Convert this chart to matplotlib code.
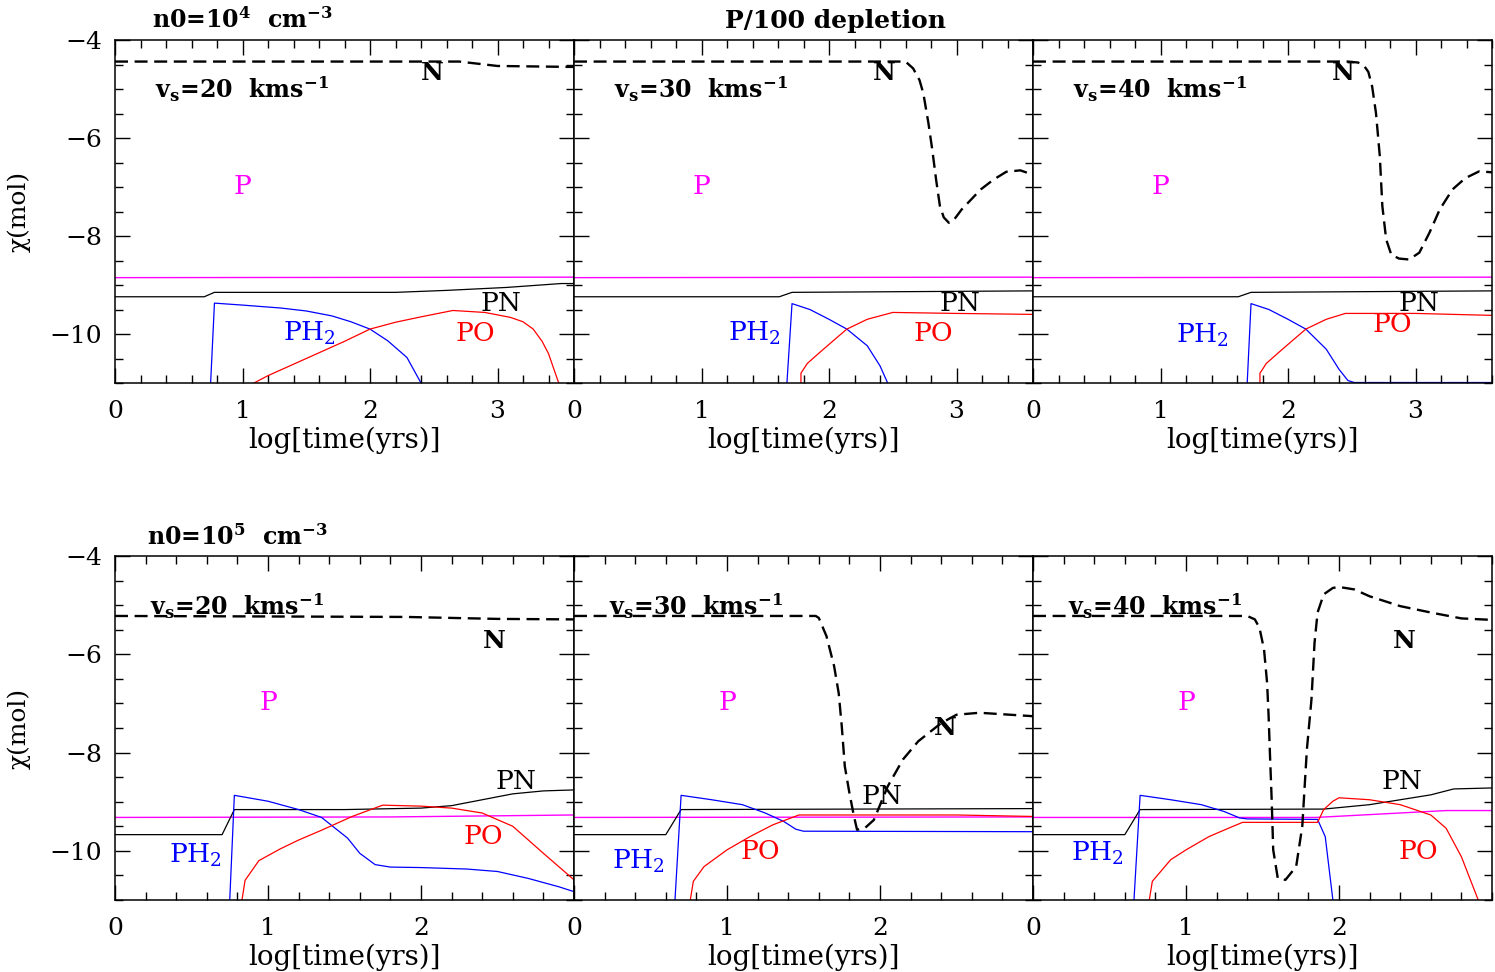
import numpy as np
import matplotlib
matplotlib.use('Agg')
import matplotlib.pyplot as plt
from matplotlib.ticker import MultipleLocator

plt.rcParams['font.family'] = 'DejaVu Serif'
plt.rcParams['mathtext.fontset'] = 'dejavuserif'

# ---------------- data (log time in yrs, log abundance) ----------------
# top row: n0 = 1e4 cm^-3
t_N_4_20 = [0, 2.7, 3.0, 3.6]
N_4_20 = [-4.44, -4.44, -4.53, -4.55]
t_P_4_20 = [0, 3.6]
P_4_20 = [-8.85, -8.84]
t_PN_4_20 = [0, 0.70, 0.78, 2.2, 2.6, 3.07, 3.5, 3.6]
PN_4_20 = [-9.24, -9.24, -9.15, -9.15, -9.11, -9.05, -8.97, -8.97]
t_PH2_4_20 = [0.75, 0.78, 1.0, 1.3, 1.5, 1.7, 1.85, 2.0, 2.14, 2.29, 2.4]
PH2_4_20 = [-11, -9.37, -9.41, -9.47, -9.53, -9.63, -9.75, -9.90, -10.14, -10.48, -11.0]
t_PO_4_20 = [1.09, 1.2, 1.5, 1.8, 2.0, 2.2, 2.4, 2.65, 2.9, 3.1, 3.2, 3.28, 3.35, 3.4, 3.44, 3.48]
PO_4_20 = [-11, -10.85, -10.5, -10.15, -9.9, -9.76, -9.65, -9.52, -9.56, -9.66, -9.75, -9.9, -10.15, -10.4, -10.7, -11]

t_N_4_30 = [0, 2.6, 2.66, 2.71, 2.74, 2.78, 2.81, 2.84, 2.87, 2.9, 2.94, 2.97, 3.0, 3.04, 3.19, 3.29, 3.39, 3.5, 3.6]
N_4_30 = [-4.44, -4.44, -4.58, -4.82, -5.09, -5.7, -6.24, -6.85, -7.39, -7.62, -7.73, -7.70, -7.6, -7.46, -7.05, -6.85, -6.69, -6.66, -6.75]
t_P_4_30 = [0, 3.6]
P_4_30 = [-8.85, -8.84]
t_PN_4_30 = [0, 1.61, 1.71, 3.6]
PN_4_30 = [-9.24, -9.24, -9.15, -9.12]
t_PH2_4_30 = [1.67, 1.71, 1.85, 2.0, 2.14, 2.3, 2.4, 2.46]
PH2_4_30 = [-11, -9.38, -9.5, -9.7, -9.9, -10.24, -10.65, -11]
t_PO_4_30 = [1.78, 1.78, 1.83, 1.93, 2.05, 2.14, 2.3, 2.5, 3.0, 3.6]
PO_4_30 = [-11, -10.8, -10.6, -10.37, -10.1, -9.9, -9.7, -9.56, -9.58, -9.60]

t_N_4_40 = [0, 2.47, 2.55, 2.6, 2.63, 2.66, 2.69, 2.72, 2.74, 2.77, 2.81, 2.87, 2.95, 3.03, 3.11, 3.19, 3.29, 3.39, 3.5, 3.6]
N_4_40 = [-4.44, -4.44, -4.46, -4.54, -4.65, -4.95, -5.49, -6.37, -7.39, -8.07, -8.38, -8.46, -8.48, -8.34, -7.93, -7.46, -7.05, -6.82, -6.68, -6.70]
t_P_4_40 = [0, 3.6]
P_4_40 = [-8.85, -8.84]
t_PN_4_40 = [0, 1.61, 1.71, 3.6]
PN_4_40 = [-9.24, -9.24, -9.15, -9.12]
t_PH2_4_40 = [1.68, 1.71, 1.85, 2.0, 2.14, 2.3, 2.4, 2.47, 2.52, 3.6]
PH2_4_40 = [-11, -9.38, -9.5, -9.7, -9.9, -10.31, -10.72, -10.95, -10.99, -10.99]
t_PO_4_40 = [1.78, 1.78, 1.83, 1.93, 2.05, 2.14, 2.3, 2.45, 3.0, 3.6]
PO_4_40 = [-11, -10.8, -10.6, -10.37, -10.1, -9.9, -9.7, -9.58, -9.58, -9.62]

# bottom row: n0 = 1e5 cm^-3
t_N_5_20 = [0, 1.9, 2.5, 3.0]
N_5_20 = [-5.22, -5.24, -5.28, -5.29]
t_P_5_20 = [0, 1.8, 3.0]
P_5_20 = [-9.32, -9.31, -9.27]
t_PN_5_20 = [0, 0.70, 0.78, 1.5, 2.0, 2.2, 2.4, 2.6, 2.8, 3.0]
PN_5_20 = [-9.67, -9.67, -9.16, -9.16, -9.13, -9.08, -8.96, -8.84, -8.78, -8.76]
t_PH2_5_20 = [0.75, 0.78, 1.0, 1.2, 1.35, 1.52, 1.6, 1.7, 1.8, 2.0, 2.3, 2.5, 2.7, 2.9, 3.0]
PH2_5_20 = [-11, -8.87, -8.99, -9.16, -9.32, -9.74, -10.05, -10.28, -10.33, -10.34, -10.37, -10.42, -10.56, -10.73, -10.83]
t_PO_5_20 = [0.83, 0.85, 0.94, 1.08, 1.2, 1.35, 1.55, 1.75, 2.0, 2.2, 2.4, 2.6, 2.8, 3.0]
PO_5_20 = [-11, -10.6, -10.2, -9.96, -9.78, -9.58, -9.3, -9.07, -9.09, -9.13, -9.23, -9.5, -10.05, -10.59]

t_N_5_30 = [0, 1.58, 1.6, 1.65, 1.7, 1.73, 1.75, 1.77, 1.8, 1.83, 1.85, 1.9, 1.96, 2.05, 2.15, 2.25, 2.4, 2.5, 2.65, 3.0]
N_5_30 = [-5.22, -5.22, -5.26, -5.63, -6.24, -6.79, -7.46, -8.28, -8.82, -9.30, -9.57, -9.54, -9.37, -8.69, -8.14, -7.77, -7.40, -7.23, -7.19, -7.26]
t_P_5_30 = [0, 3.0]
P_5_30 = [-9.32, -9.31]
t_PN_5_30 = [0, 0.60, 0.70, 3.0]
PN_5_30 = [-9.67, -9.67, -9.16, -9.14]
t_PH2_5_30 = [0.66, 0.70, 0.9, 1.1, 1.25, 1.37, 1.45, 1.5, 3.0]
PH2_5_30 = [-11, -8.87, -8.96, -9.06, -9.23, -9.40, -9.56, -9.60, -9.61]
t_PO_5_30 = [0.76, 0.78, 0.85, 1.0, 1.15, 1.3, 1.47, 2.5, 3.0]
PO_5_30 = [-11, -10.62, -10.32, -9.98, -9.71, -9.47, -9.27, -9.27, -9.30]

t_N_5_40 = [0, 1.40, 1.45, 1.48, 1.51, 1.53, 1.54, 1.55, 1.56, 1.57, 1.6, 1.65, 1.72, 1.76, 1.79, 1.82, 1.84, 1.86,
            1.9, 1.96, 2.0, 2.1, 2.2, 2.4, 2.6, 2.8, 3.0]
N_5_40 = [-5.22, -5.22, -5.29, -5.46, -5.90, -6.58, -7.26, -8.14, -8.96, -9.98, -10.56, -10.59, -10.32, -9.50, -7.94,
          -6.92, -5.77, -5.15, -4.78, -4.65, -4.63, -4.68, -4.82, -5.02, -5.15, -5.27, -5.30]
t_P_5_40 = [0, 1.85, 2.7, 3.0]
P_5_40 = [-9.32, -9.32, -9.18, -9.18]
t_PN_5_40 = [0, 0.6, 0.7, 1.9, 2.2, 2.4, 2.6, 2.75, 3.0]
PN_5_40 = [-9.67, -9.67, -9.16, -9.15, -9.06, -8.96, -8.86, -8.74, -8.72]
t_PH2_5_40 = [0.66, 0.70, 0.9, 1.1, 1.25, 1.35, 1.4, 1.86, 1.91, 1.96]
PH2_5_40 = [-11, -8.87, -8.96, -9.06, -9.20, -9.33, -9.35, -9.36, -9.71, -11]
t_PO_5_40 = [0.76, 0.78, 0.9, 1.0, 1.15, 1.3, 1.37, 1.86, 1.9, 1.96, 2.0, 2.2, 2.4, 2.6, 2.7, 2.8, 2.91]
PO_5_40 = [-11, -10.62, -10.18, -9.98, -9.71, -9.51, -9.42, -9.42, -9.16, -8.99, -8.92, -8.96, -9.06, -9.27, -9.54, -10.12, -11]

speeds = ['20', '30', '40']

fig = plt.figure(figsize=(14.95, 9.72), dpi=100)

left = 115 / 1495
pw = 459 / 1495
rows = [(1 - 383 / 972, 343 / 972, 3.6, [0, 1, 2, 3]),
        (1 - 900 / 972, 344 / 972, 3.0, [0, 1, 2])]

panels = [
    [(t_N_4_20, N_4_20, t_P_4_20, P_4_20, t_PN_4_20, PN_4_20, t_PH2_4_20, PH2_4_20, t_PO_4_20, PO_4_20),
     (t_N_4_30, N_4_30, t_P_4_30, P_4_30, t_PN_4_30, PN_4_30, t_PH2_4_30, PH2_4_30, t_PO_4_30, PO_4_30),
     (t_N_4_40, N_4_40, t_P_4_40, P_4_40, t_PN_4_40, PN_4_40, t_PH2_4_40, PH2_4_40, t_PO_4_40, PO_4_40)],
    [(t_N_5_20, N_5_20, t_P_5_20, P_5_20, t_PN_5_20, PN_5_20, t_PH2_5_20, PH2_5_20, t_PO_5_20, PO_5_20),
     (t_N_5_30, N_5_30, t_P_5_30, P_5_30, t_PN_5_30, PN_5_30, t_PH2_5_30, PH2_5_30, t_PO_5_30, PO_5_30),
     (t_N_5_40, N_5_40, t_P_5_40, P_5_40, t_PN_5_40, PN_5_40, t_PH2_5_40, PH2_5_40, t_PO_5_40, PO_5_40)],
]

# label positions (x, y) for N, PH2, PO, PN ; vs label x, y
lab_N = [[(2.49, -4.68), (2.43, -4.68), (2.43, -4.68)],
         [(2.48, -5.72), (2.43, -7.5), (2.43, -5.72)]]
lab_PH2 = [[(1.32, -9.99), (1.21, -9.99), (1.12, -10.02)],
           [(0.35, -10.1), (0.25, -10.22), (0.25, -10.05)]]
lab_PO = [[(2.67, -9.99), (2.66, -9.99), (2.66, -9.8)],
          [(2.28, -9.71), (1.09, -10.01), (2.39, -10.01)]]
lab_PN = [[(2.87, -9.38), (2.87, -9.38), (2.87, -9.38)],
          [(2.49, -8.59), (1.88, -8.89), (2.28, -8.59)]]
lab_vs = [(0.31, -5.0), (0.23, -5.02)]

axes = []
for r, (bot, h, xmax, xt) in enumerate(rows):
    for c in range(3):
        ax = fig.add_axes([left + c * pw, bot, pw, h])
        tN, N, tP, P, tPN, PN, tPH2, PH2, tPO, PO = panels[r][c]
        ax.plot(tP, P, color='#ff00ff', lw=1.0)
        ax.plot(tPN, PN, color='black', lw=0.9)
        ax.plot(tPH2, PH2, color='#0000ff', lw=0.9)
        ax.plot(tPO, PO, color='#ff0000', lw=0.9)
        ax.plot(tN, N, color='black', lw=1.7, ls=(0, (5.5, 2.8)))

        ax.set_xlim(0, xmax)
        ax.set_ylim(-11, -4)
        ax.set_xticks(xt)
        ax.xaxis.set_minor_locator(MultipleLocator(0.2))
        ax.set_yticks([-10, -8, -6, -4])
        ax.yaxis.set_minor_locator(MultipleLocator(0.5))
        ax.tick_params(which='both', direction='in', top=True, right=True, width=1.0, labelsize=18)
        ax.tick_params(which='major', length=11)
        ax.tick_params(which='minor', length=5.5)
        ax.tick_params(axis='x', pad=12)
        ax.tick_params(axis='y', pad=9)
        for s in ax.spines.values():
            s.set_linewidth(1.1)
        ax.set_xlabel('log[time(yrs)]', fontsize=20, labelpad=3)
        if c == 0:
            ax.set_ylabel('χ(mol)', fontsize=18)
            ax.yaxis.set_label_coords(-0.183, 0.5)
        else:
            ax.set_yticklabels([])

        ax.text(1.0, -6.99, 'P', color='#ff00ff', fontsize=19, ha='center', va='center')
        ax.text(*lab_N[r][c], 'N', fontsize=18, fontweight='bold', ha='center', va='center')
        ax.text(*lab_PH2[r][c], r'PH$_2$', color='#0000ff', fontsize=19, ha='left', va='center')
        ax.text(*lab_PO[r][c], 'PO', color='#ff0000', fontsize=19, ha='left', va='center')
        ax.text(*lab_PN[r][c], 'PN', color='black', fontsize=19, ha='left', va='center')
        ax.text(*lab_vs[r], r'v$_\mathbf{s}$=' + speeds[c] + r'  kms$^\mathbf{-1}$',
                fontsize=17, fontweight='bold', ha='left', va='center')
        axes.append(ax)

axes[0].text(0.08, 1.035, r'n0=10$^\mathbf{4}$  cm$^\mathbf{-3}$', transform=axes[0].transAxes,
             fontsize=17, fontweight='bold', ha='left', va='baseline')
axes[1].text(0.569, 1.035, 'P/100 depletion', transform=axes[1].transAxes,
             fontsize=18, fontweight='bold', ha='center', va='baseline')
axes[3].text(0.07, 1.032, r'n0=10$^\mathbf{5}$  cm$^\mathbf{-3}$', transform=axes[3].transAxes,
             fontsize=17, fontweight='bold', ha='left', va='baseline')

fig.savefig('out.png', dpi=100)
